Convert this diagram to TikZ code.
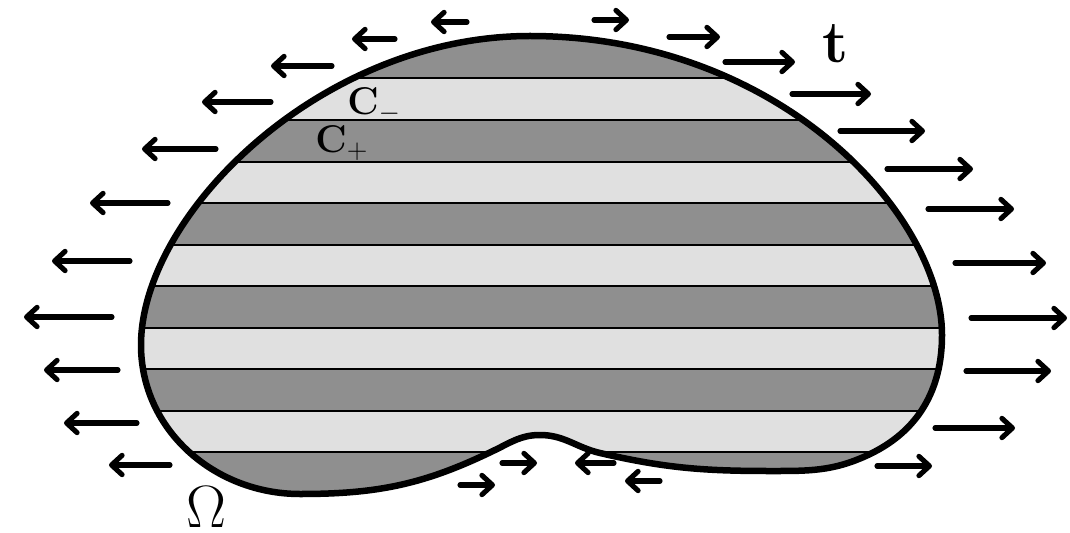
\RequirePackage{fix-cm}
\documentclass[tikz,border=0pt]{standalone}
\usetikzlibrary{arrows.meta}

\definecolor{stripedark}{gray}{0.56}
\definecolor{stripelight}{gray}{0.88}

\begin{document}
\begin{tikzpicture}[
  x=0.02cm, y=-0.02cm,
  force/.style={-{Straight Barb[length=6pt,width=11pt,round]}, line width=2.9pt, line cap=round},
  border/.style={line width=3.7pt, line join=round},
  seam/.style={line width=0.7pt},
  lbl/.style={inner sep=0pt, anchor=base west},
]

\useasboundingbox (0,0) rectangle (1070,533);

\def\boundary{(530,36) .. controls (780,36) and (942,215) .. (942,335)
  to[out=-90,in=25] (868,455)
  to[out=205,in=0] (770,471) to[out=180,in=-13] (600,453)
  to[out=167,in=0] (540,435) to[out=180,in=26] (495,450)
  to[out=206,in=0] (300,494) to[out=180,in=-90] (141,345)
  .. controls (141,215) and (320,36) .. (530,36) -- cycle}

% striped body
\begin{scope}
  \clip \boundary;
  \fill[stripedark] (100,0) rectangle (1000,533);
  \foreach \ya/\yb in {78/120,162/203,245/286,328/369,411/452}
    \fill[stripelight] (100,\ya) rectangle (1000,\yb);
  \foreach \y in {78,120,162,203,245,286,328,369,411,452}
    \draw[seam] (100,\y) -- (1000,\y);
\end{scope}
\draw[border] \boundary;

% tractions pulling left
\foreach \xa/\xb/\y in {467/431/22, 395/352/39, 332/271/66, 271/202/102,
    216/142/149, 168/90/203, 130/52/261, 112/24/317, 118/44/370,
    137/64/423, 170/109/465, 614/575/463, 660/625/481}
  \draw[force] (\xa,\y) -- (\xb,\y);

% tractions pulling right
\foreach \xa/\xb/\y in {594/629/20, 669/720/37, 725/795/62, 792/871/94,
    840/925/131, 887/973/169, 928/1014/209, 955/1046/263, 971/1067/318,
    966/1051/371, 935/1015/428, 877/932/466, 460/495/485, 502/537/463}
  \draw[force] (\xa,\y) -- (\xb,\y);

\node[lbl, font=\fontsize{22}{26}\selectfont] (cminus) at (347,115) {$\mathbf{C}_-$};
\node[lbl, font=\fontsize{22}{26}\selectfont] (cplus) at (315,153) {$\mathbf{C}_+$};
\node[lbl, font=\fontsize{34}{40}\selectfont] (traction) at (822,63) {$\mathbf{t}$};
\node[lbl, font=\fontsize{34}{40}\selectfont] (omega) at (186,527) {$\Omega$};

\end{tikzpicture}
\end{document}
